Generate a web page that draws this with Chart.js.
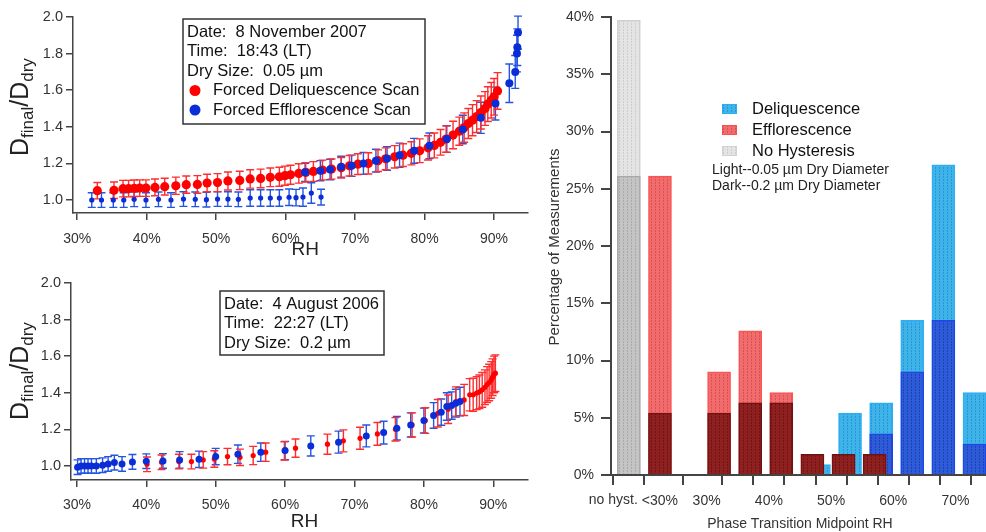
<!DOCTYPE html>
<html>
<head>
<meta charset="utf-8">
<script src="https://cdn.jsdelivr.net/npm/chart.js@4.4.1/dist/chart.umd.min.js"></script>
<style>
  html, body { margin: 0; padding: 0; background: #fff; }
  #wrap { position: relative; width: 986px; height: 532px; overflow: hidden; }
  canvas { position: absolute; }
</style>
</head>
<body>
<div id="wrap">
  <canvas id="topChart" width="532" height="262" style="left:0;top:0"></canvas>
  <canvas id="bottomChart" width="532" height="270" style="left:0;top:262px"></canvas>
  <canvas id="histChart" width="456" height="532" style="left:530px;top:0"></canvas>
</div>
<script>
// ---- top panel: 8 Nov 2007, 0.05 um
const topDelqRH    = [32.9, 35.3, 36.6, 37.4, 38.2, 39.0, 39.9, 41.2, 42.6, 44.2, 45.7, 47.3, 48.7, 50.2, 51.7, 53.4, 54.9, 56.4, 57.8, 59.1, 59.9, 60.7, 61.9, 62.9, 64.0, 65.3, 66.6, 68.0, 69.2, 70.4, 71.9, 73.3, 74.4, 75.7, 76.9, 78.1, 79.3, 80.5, 81.4, 82.3, 83.1, 84.1, 85.0, 85.7, 86.3, 86.9, 87.5, 88.1, 88.7, 89.1, 89.6, 90.0, 90.5];
const topDelqRatio = [1.051, 1.053, 1.062, 1.062, 1.064, 1.065, 1.065, 1.069, 1.073, 1.078, 1.084, 1.085, 1.093, 1.095, 1.104, 1.107, 1.115, 1.118, 1.124, 1.127, 1.133, 1.138, 1.145, 1.151, 1.156, 1.164, 1.169, 1.176, 1.187, 1.196, 1.200, 1.215, 1.225, 1.236, 1.245, 1.255, 1.269, 1.285, 1.298, 1.315, 1.333, 1.355, 1.376, 1.396, 1.418, 1.436, 1.456, 1.478, 1.500, 1.524, 1.545, 1.564, 1.596];
const topDelqErr   = [0.045, 0.045, 0.045, 0.045, 0.045, 0.045, 0.045, 0.046, 0.046, 0.047, 0.047, 0.048, 0.048, 0.049, 0.049, 0.050, 0.050, 0.051, 0.051, 0.052, 0.052, 0.052, 0.053, 0.053, 0.054, 0.054, 0.055, 0.056, 0.056, 0.057, 0.058, 0.059, 0.060, 0.061, 0.062, 0.063, 0.065, 0.066, 0.068, 0.070, 0.072, 0.075, 0.077, 0.080, 0.082, 0.085, 0.087, 0.090, 0.092, 0.095, 0.097, 0.100, 0.100];

const topEffLowRH    = [32.1, 33.5, 35.2, 36.7, 38.2, 39.9, 41.7, 43.5, 45.3, 47.0, 48.6, 50.2, 51.7, 53.2, 54.9, 56.4, 57.8, 59.1, 60.5, 61.5, 62.5, 63.7, 65.1];
const topEffLowRatio = [1.000, 1.000, 1.000, 1.000, 1.004, 1.000, 1.004, 1.000, 1.005, 1.004, 1.002, 1.005, 1.005, 1.004, 1.011, 1.011, 1.011, 1.011, 1.015, 1.013, 1.016, 1.038, 1.016];
const topEffLowErr   = [0.040, 0.040, 0.040, 0.040, 0.040, 0.040, 0.040, 0.040, 0.040, 0.040, 0.040, 0.040, 0.040, 0.040, 0.045, 0.045, 0.045, 0.045, 0.045, 0.045, 0.050, 0.056, 0.043];

const topEffHighRH    = [62.8, 65.0, 66.4, 68.0, 69.5, 71.2, 73.0, 74.6, 76.4, 78.5, 80.7, 83.2, 85.5, 88.1, 90.2, 92.2, 93.05, 93.3, 93.35, 93.45];
const topEffHighRatio = [1.151, 1.160, 1.167, 1.182, 1.187, 1.200, 1.215, 1.227, 1.245, 1.269, 1.296, 1.333, 1.385, 1.449, 1.527, 1.638, 1.700, 1.800, 1.835, 1.915];
const topEffHighErr   = [0.050, 0.055, 0.056, 0.057, 0.058, 0.060, 0.062, 0.064, 0.066, 0.068, 0.070, 0.073, 0.078, 0.085, 0.090, 0.105, 0.090, 0.100, 0.100, 0.090];

// ---- bottom panel: 4 Aug 2006, 0.2 um
const botEffRH    = [30.1, 30.6, 31.1, 31.6, 32.1, 32.8, 33.7, 34.5, 35.4, 36.5, 38.0, 40.0, 42.4, 44.8, 47.6, 50.0, 53.2, 56.5, 60.0, 63.7, 67.7, 71.7, 74.2, 76.1, 78.1, 80.0, 81.4, 82.5, 83.3, 84.0, 84.6, 85.2];
const botEffRatio = [0.993, 1.000, 1.000, 1.000, 1.000, 1.000, 1.004, 1.011, 1.018, 1.011, 1.022, 1.026, 1.027, 1.033, 1.036, 1.051, 1.064, 1.075, 1.084, 1.109, 1.130, 1.164, 1.182, 1.206, 1.224, 1.248, 1.276, 1.294, 1.325, 1.330, 1.343, 1.352];
const botEffErr   = [0.040, 0.040, 0.040, 0.040, 0.040, 0.040, 0.040, 0.040, 0.040, 0.040, 0.040, 0.040, 0.040, 0.045, 0.045, 0.045, 0.050, 0.050, 0.050, 0.055, 0.060, 0.060, 0.062, 0.064, 0.066, 0.068, 0.070, 0.072, 0.075, 0.075, 0.076, 0.078];

const botDelqRH    = [40.1, 42.2, 44.7, 46.5, 48.2, 49.8, 51.7, 53.5, 55.4, 57.2, 59.9, 61.5, 66.1, 68.4, 70.8, 73.3, 75.9, 78.3, 80.2, 82.0, 83.5, 84.6, 85.8, 86.6, 87.1, 87.6, 88.0, 88.4, 88.8, 89.1, 89.4, 89.7, 89.9, 90.1, 90.3];
const botDelqRatio = [1.009, 1.020, 1.024, 1.024, 1.033, 1.038, 1.051, 1.047, 1.057, 1.075, 1.082, 1.097, 1.119, 1.137, 1.151, 1.175, 1.200, 1.224, 1.248, 1.288, 1.310, 1.352, 1.361, 1.389, 1.389, 1.398, 1.405, 1.416, 1.430, 1.445, 1.456, 1.470, 1.485, 1.500, 1.507];
const botDelqErr   = [0.040, 0.040, 0.040, 0.040, 0.045, 0.045, 0.045, 0.045, 0.050, 0.050, 0.050, 0.050, 0.055, 0.060, 0.060, 0.062, 0.064, 0.066, 0.070, 0.075, 0.078, 0.080, 0.085, 0.088, 0.090, 0.090, 0.092, 0.095, 0.095, 0.098, 0.100, 0.100, 0.100, 0.100, 0.100];

const rhTicks = [30, 40, 50, 60, 70, 80, 90];
const ratioTicks = [1.0, 1.2, 1.4, 1.6, 1.8, 2.0];

// ---- histogram (percent of measurements)
const phasePos    = [17.5, 22.5, 30, 35, 40, 45, 50, 55, 60, 65, 70];
const phaseLabels = ['no hyst.', '<30%', '30%', '', '40%', '', '50%', '', '60%', '', '70%'];
const noHystLight = [39.7, null, null, null, null, null, null, null, null, null, null];
const noHystDark  = [26.1, null, null, null, null, null, null, null, null, null, null];
const effloLight  = [null, 26.1, 9.0, 12.6, 7.2, 1.8, 1.8, 1.8, null, null, null];
const effloDark   = [null, 5.4, 5.4, 6.3, 6.3, 1.8, 1.8, 1.8, null, null, null];
const deliqLight  = [null, null, null, null, null, 0.9, 5.4, 6.3, 13.5, 27.1, 7.2];
const deliqDark   = [null, null, null, null, null, null, null, 3.6, 9.0, 13.5, 2.7];
const pctTicks = [0, 5, 10, 15, 20, 25, 30, 35, 40];

const FONT = "'Liberation Sans', Arial, sans-serif";
const AXIS = '#444';
const RED = 'rgb(255,0,0)', RED_ERR = 'rgb(255,45,45)';
const BLUE = 'rgb(10,45,215)', BLUE_ERR = 'rgb(35,85,225)';

function pts(xs, ys) { return xs.map((x, i) => ({ x: x, y: ys[i] })); }

const errorBars = {
  id: 'errorBars',
  beforeDatasetsDraw(chart) {
    const ctx = chart.ctx, sx = chart.scales.x, sy = chart.scales.y;
    const a = chart.chartArea;
    ctx.save();
    ctx.beginPath();
    ctx.rect(a.left, a.top - 5, a.right - a.left, a.bottom - a.top + 5);
    ctx.clip();
    chart.data.datasets.forEach(ds => {
      ctx.strokeStyle = ds.errColor;
      ctx.lineWidth = 1.4;
      ds.data.forEach((p, j) => {
        const e = ds.errs[j];
        const x = sx.getPixelForValue(p.x);
        const yt = sy.getPixelForValue(p.y + e), yb = sy.getPixelForValue(p.y - e);
        ctx.beginPath();
        ctx.moveTo(x, yt); ctx.lineTo(x, yb);
        ctx.moveTo(x - 4, yt); ctx.lineTo(x + 4, yt);
        ctx.moveTo(x - 4, yb); ctx.lineTo(x + 4, yb);
        ctx.stroke();
      });
    });
    ctx.restore();
  }
};

function drawRatioTitle(ctx, x, y) {
  ctx.save();
  ctx.translate(x, y);
  ctx.rotate(-Math.PI / 2);
  ctx.fillStyle = '#222';
  ctx.textBaseline = 'alphabetic';
  let cx = 0;
  const parts = [['D', 25, 0], ['final', 17, 5], ['/D', 25, 0], ['dry', 17, 5]];
  parts.forEach(([t, s, dy]) => {
    ctx.font = s + 'px ' + FONT;
    ctx.fillText(t, cx, dy);
    cx += ctx.measureText(t).width;
  });
  ctx.restore();
}

function infoBox(box) {
  return {
    id: 'infoBox',
    afterDraw(chart) {
      const ctx = chart.ctx;
      ctx.save();
      ctx.fillStyle = '#fff';
      ctx.fillRect(box.x, box.y, box.w, box.h);
      ctx.strokeStyle = '#333';
      ctx.lineWidth = 1.5;
      ctx.strokeRect(box.x, box.y, box.w, box.h);
      ctx.font = '16.5px ' + FONT;
      ctx.fillStyle = '#111';
      ctx.textBaseline = 'middle';
      box.lines.forEach((t, i) => ctx.fillText(t, box.x + 4, box.y + 13 + i * 19.5));
      (box.legend || []).forEach((l, i) => {
        const yy = box.y + 13 + (box.lines.length + i) * 19.5;
        ctx.fillStyle = l.color;
        ctx.beginPath();
        ctx.arc(box.x + 12, yy, 5.5, 0, Math.PI * 2);
        ctx.fill();
        ctx.fillStyle = '#111';
        ctx.fillText(l.text, box.x + 30, yy);
      });
      // axis titles
      drawRatioTitle(ctx, 28, box.titleY);
      ctx.font = '19px ' + FONT;
      ctx.fillStyle = '#222';
      ctx.textAlign = 'center';
      ctx.fillText('RH', (chart.chartArea.left + chart.chartArea.right) / 2 + 5, box.rhY);
      ctx.restore();
    }
  };
}

function leftChart(id, datasets, layout, box) {
  return new Chart(document.getElementById(id), {
    type: 'scatter',
    data: { datasets: datasets },
    options: {
      responsive: false,
      animation: false,
      events: [],
      layout: { padding: { top: layout.top, right: 2, left: 0, bottom: 0 } },
      plugins: { legend: { display: false }, tooltip: { enabled: false } },
      scales: {
        x: {
          type: 'linear', min: layout.xMin, max: layout.xMax,
          afterBuildTicks: s => { s.ticks = rhTicks.map(v => ({ value: v })); },
          afterFit: s => { s.height = layout.xHeight; },
          grid: { display: true, drawOnChartArea: false, drawTicks: true, tickLength: 7, color: AXIS, lineWidth: 1.5 },
          border: { display: true, color: AXIS, width: 1.5 },
          ticks: { callback: v => v + '%', font: { family: FONT, size: 14 }, color: '#333', padding: layout.xPad, maxRotation: 0 }
        },
        y: {
          type: 'linear', min: layout.yMin, max: 2.0,
          afterBuildTicks: s => { s.ticks = ratioTicks.map(v => ({ value: v })); },
          afterFit: s => { s.width = layout.yWidth; },
          grid: { display: true, drawOnChartArea: false, drawTicks: true, tickLength: 7, color: AXIS, lineWidth: 1.5 },
          border: { display: true, color: AXIS, width: 1.5 },
          ticks: { callback: v => v.toFixed(1), font: { family: FONT, size: 14.5 }, color: '#333', padding: 3 }
        }
      }
    },
    plugins: [errorBars, infoBox(box)]
  });
}

leftChart('topChart', [
  { data: pts(topEffHighRH, topEffHighRatio), errs: topEffHighErr, errColor: BLUE_ERR, backgroundColor: BLUE, borderWidth: 0, pointRadius: 4, order: 0 },
  { data: pts(topEffLowRH, topEffLowRatio), errs: topEffLowErr, errColor: BLUE_ERR, backgroundColor: BLUE, borderWidth: 0, pointRadius: 2.6, order: 1 },
  { data: pts(topDelqRH, topDelqRatio), errs: topDelqErr, errColor: RED_ERR, backgroundColor: RED, borderWidth: 0, pointRadius: 4.6, order: 2 }
], { top: 17, xMin: 29.4, xMax: 94.8, yMin: 0.929, xHeight: 49, yWidth: 73, xPad: 11 },
{ x: 183, y: 19, w: 242, h: 105, titleY: 156, rhY: 250,
  lines: ['Date:  8 November 2007', 'Time:  18:43 (LT)', 'Dry Size:  0.05 \u00b5m'],
  legend: [{ color: RED, text: 'Forced Deliquescence Scan' }, { color: BLUE, text: 'Forced Efflorescence Scan' }] });

leftChart('bottomChart', [
  { data: pts(botEffRH, botEffRatio), errs: botEffErr, errColor: BLUE_ERR, backgroundColor: BLUE, borderWidth: 0, pointRadius: 3.5, order: 0 },
  { data: pts(botDelqRH, botDelqRatio), errs: botDelqErr, errColor: RED_ERR, backgroundColor: RED, borderWidth: 0, pointRadius: 2.6, order: 1 }
], { top: 21, xMin: 29.15, xMax: 95.0, yMin: 0.923, xHeight: 52, yWidth: 71, xPad: 10 },
{ x: 220, y: 29, w: 164, h: 64, titleY: 158, rhY: 260,
  lines: ['Date:  4 August 2006', 'Time:  22:27 (LT)', 'Dry Size:  0.2 \u00b5m'] });

// ---- histogram
function texture(base, dot) {
  const c = document.createElement('canvas');
  c.width = 4; c.height = 3;
  const g = c.getContext('2d');
  g.fillStyle = base; g.fillRect(0, 0, 4, 3);
  g.fillStyle = dot; g.fillRect(1, 0, 1, 1); g.fillRect(1, 2, 1, 1);
  return g.createPattern(c, 'repeat');
}

function barPts(values, shift) {
  return values.map((v, i) => ({ x: phasePos[i] + (phasePos[i] >= 30 ? shift : 0), y: v }))
    .filter(p => p.y !== null);
}

const hctx = document.getElementById('histChart').getContext('2d');
const fills = {
  grayLight: texture('rgb(228,228,228)', 'rgb(205,205,205)'),
  grayDark: texture('rgb(196,196,196)', 'rgb(170,170,170)'),
  redLight: texture('rgb(241,108,108)', 'rgb(222,80,80)'),
  redDark: texture('rgb(142,32,32)', 'rgb(115,20,20)'),
  blueLight: texture('rgb(62,180,233)', 'rgb(40,150,215)'),
  blueDark: texture('rgb(45,92,214)', 'rgb(30,65,190)')
};

const histLegend = {
  id: 'histLegend',
  afterDraw(chart) {
    const ctx = chart.ctx, a = chart.chartArea, sx = chart.scales.x;
    ctx.save();
    const rows = [
      ['Deliquescence', fills.blueLight, 'rgb(40,175,245)'],
      ['Efflorescence', fills.redLight, 'rgb(250,80,80)'],
      ['No Hysteresis', fills.grayLight, 'rgb(210,210,210)']
    ];
    ctx.textBaseline = 'middle';
    rows.forEach(([t, f, b], i) => {
      const yy = 109 + i * 21;
      ctx.fillStyle = f;
      ctx.fillRect(192, yy - 5, 15, 10);
      ctx.strokeStyle = b; ctx.lineWidth = 1;
      ctx.strokeRect(192.5, yy - 4.5, 14, 9);
      ctx.fillStyle = '#111';
      ctx.font = '16.5px ' + FONT;
      ctx.fillText(t, 222, yy);
    });
    ctx.font = '14px ' + FONT;
    ctx.fillStyle = '#222';
    ctx.fillText('Light--0.05 \u00b5m Dry Diameter', 182, 170);
    ctx.fillText('Dark--0.2 \u00b5m Dry Diameter', 182, 186);
    // first category label sits left of its tick
    ctx.font = '14px ' + FONT;
    ctx.fillStyle = '#333';
    ctx.textAlign = 'right';
    ctx.textBaseline = 'top';
    ctx.fillText(phaseLabels[0], sx.getPixelForValue(phasePos[0]) + 9, a.bottom + 18);
    // axis titles
    ctx.textAlign = 'center';
    ctx.textBaseline = 'middle';
    ctx.font = '14px ' + FONT;
    ctx.fillText('Phase Transition Midpoint RH', 270, 524);
    ctx.translate(25, 247);
    ctx.rotate(-Math.PI / 2);
    ctx.font = '15px ' + FONT;
    ctx.fillText('Percentage of Measurements', 0, 0);
    ctx.restore();
  }
};

function barSet(values, shift, fill, border, order) {
  return { data: barPts(values, shift), backgroundColor: fill, borderColor: border, borderWidth: 1.5, order: order };
}

new Chart(hctx, {
  type: 'bar',
  data: {
    datasets: [
      barSet(effloDark, 2.0, fills.redDark, 'rgb(112,18,18)', 0),
      barSet(effloLight, 2.0, fills.redLight, 'rgb(250,85,85)', 1),
      barSet(deliqDark, 3.05, fills.blueDark, 'rgb(30,70,235)', 2),
      barSet(deliqLight, 3.05, fills.blueLight, 'rgb(45,175,245)', 3),
      barSet(noHystDark, 0, fills.grayDark, 'rgb(168,168,168)', 4),
      barSet(noHystLight, 0, fills.grayLight, 'rgb(208,208,208)', 5)
    ]
  },
  options: {
    responsive: false,
    animation: false,
    events: [],
    layout: { padding: { top: 17, right: 0, left: 0, bottom: 0 } },
    datasets: { bar: { grouped: false, barThickness: 23 } },
    plugins: { legend: { display: false }, tooltip: { enabled: false } },
    scales: {
      x: {
        type: 'linear', min: 14.63, max: 74.9, offset: false,
        afterBuildTicks: s => { s.ticks = phasePos.map(v => ({ value: v })); },
        afterFit: s => { s.height = 57; },
        grid: { display: true, drawOnChartArea: false, drawTicks: true, tickLength: 10, color: AXIS, lineWidth: 2 },
        border: { display: true, color: AXIS, width: 2 },
        ticks: { callback: (v, i) => i === 0 ? '' : phaseLabels[i], font: { family: FONT, size: 14 }, color: '#333', padding: 8, maxRotation: 0, autoSkip: false }
      },
      y: {
        type: 'linear', min: 0, max: 40,
        afterBuildTicks: s => { s.ticks = pctTicks.map(v => ({ value: v })); },
        afterFit: s => { s.width = 81; },
        grid: { display: true, drawOnChartArea: false, drawTicks: true, tickLength: 10, color: AXIS, lineWidth: 2 },
        border: { display: true, color: AXIS, width: 2 },
        ticks: { callback: v => v + '%', font: { family: FONT, size: 14 }, color: '#333', padding: 7 }
      }
    }
  },
  plugins: [histLegend]
});
</script>
</body>
</html>
